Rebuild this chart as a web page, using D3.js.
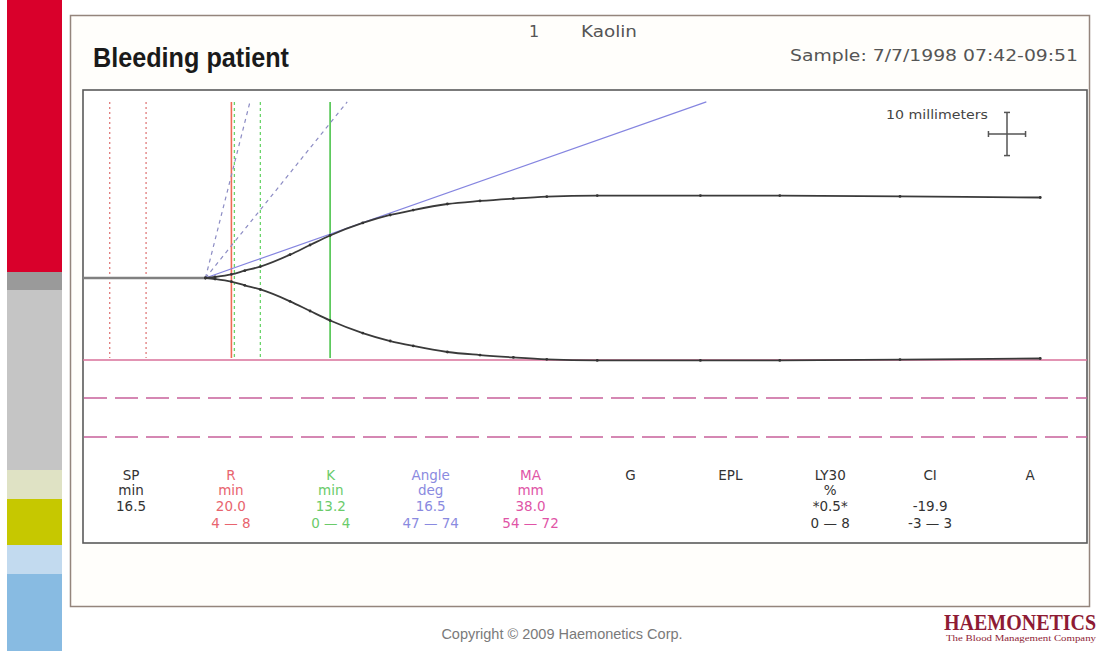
<!DOCTYPE html>
<html>
<head>
<meta charset="utf-8">
<script src="https://cdn.jsdelivr.net/npm/d3@7"></script>
<style>
  body { margin: 0; background: #fff; }
  svg { display: block; }
</style>
</head>
<body>
<svg id="chart" width="1103" height="651"></svg>
<script>
// trace: time in minutes, amplitude (full width) in mm
const traceTime = [16.5, 17.8, 20.0, 21.8, 23.9, 27.9, 30.6, 33.3, 37.7, 41.4, 44.5, 49.1, 53.5, 58.0, 62.5, 69.3, 83.2, 93.9, 110.1, 129.0];
const traceAmp  = [0,    0.5,  1.7,  3.4,  5.3,  10.8, 15.3, 19.7, 25.5, 29.2, 31.5, 34.3, 35.7, 36.8, 37.7, 38.2, 38.2, 38.2, 37.8, 37.3];
const splitPoint = 16.5;

// marker lines (minutes)
const rRangeLines = [3.6, 8.5];
const rLine = 20.0;
const kRangeLines = [20.4, 23.9];
const kLine = 33.3;
// angle lines end at the top guide, given as end time (min)
const angleRangeEnds = [22.5, 35.6];
const angleEnd = 84.0;
const guideTop = 40.8; // half-amplitude mm at the top of the guides

// results table
const paramNames  = ["SP", "R", "K", "Angle", "MA", "G", "EPL", "LY30", "CI", "A"];
const paramUnits  = ["min", "min", "min", "deg", "mm", "", "", "%", "", ""];
const paramValues = ["16.5", "20.0", "13.2", "16.5", "38.0", "", "", "*0.5*", "-19.9", ""];
const paramRanges = ["", "4 \u2014 8", "0 \u2014 4", "47 \u2014 74", "54 \u2014 72", "", "", "0 \u2014 8", "-3 \u2014 3", ""];
const paramColors = ["#333", "#e8646e", "#6acb6a", "#8a8ae0", "#e054a6", "#333", "#333", "#333", "#333", "#333"];

// side bars
const sideBarStops  = [0, 272, 290, 470, 499, 545, 574, 651];
const sideBarColors = ["#d9002b", "#9a9a9a", "#c5c5c5", "#dfe2c4", "#c6c800", "#c2daef", "#88bbe2"];

const svg = d3.select("#chart");

// left coloured strip
svg.selectAll(".side")
  .data(sideBarColors)
  .enter().append("rect")
  .attr("x", 7).attr("width", 55)
  .attr("y", (d, i) => sideBarStops[i])
  .attr("height", (d, i) => sideBarStops[i + 1] - sideBarStops[i])
  .attr("fill", d => d);

// outer frame
svg.append("rect")
  .attr("x", 70.5).attr("y", 15.5).attr("width", 1019).attr("height", 591)
  .attr("fill", "#fffefb").attr("stroke", "#94857c").attr("stroke-width", 1.5);

// header
svg.append("text").attr("x", 93).attr("y", 67)
  .attr("font-family", "'Liberation Sans Narrow', 'Liberation Sans', Arial, sans-serif")
  .attr("font-weight", "bold").attr("font-size", 27)
  .attr("textLength", 196).attr("lengthAdjust", "spacingAndGlyphs")
  .attr("fill", "#1a1a1a").text("Bleeding patient");

svg.append("text").attr("x", 529).attr("y", 37)
  .attr("font-family", "'DejaVu Sans', sans-serif").attr("font-size", 16)
  .attr("fill", "#555").text("1");
svg.append("text").attr("x", 581).attr("y", 37)
  .attr("font-family", "'DejaVu Sans', sans-serif").attr("font-size", 16)
  .attr("textLength", 56).attr("lengthAdjust", "spacingAndGlyphs")
  .attr("fill", "#555").text("Kaolin");
svg.append("text").attr("x", 790).attr("y", 61)
  .attr("font-family", "'DejaVu Sans', sans-serif").attr("font-size", 16.5)
  .attr("textLength", 288).attr("lengthAdjust", "spacingAndGlyphs")
  .attr("fill", "#555").text("Sample: 7/7/1998 07:42-09:51");

// plot box
const plotLeft = 83, plotRight = 1087, plotTop = 90, plotBottom = 543;
svg.append("rect")
  .attr("x", plotLeft).attr("y", plotTop)
  .attr("width", plotRight - plotLeft).attr("height", plotBottom - plotTop)
  .attr("fill", "#fff").attr("stroke", "#5a5a5a").attr("stroke-width", 1.6);

const x = d3.scaleLinear().domain([0, 135.3]).range([plotLeft, plotRight]);
// half-amplitude in mm, centred on the trace baseline
const y = d3.scaleLinear().domain([-19, 19]).range([360, 196]);

const guideBottom = y(-19) - 2;

// pink base line and dashed lines below
svg.append("line")
  .attr("x1", plotLeft).attr("x2", plotRight).attr("y1", y(-19)).attr("y2", y(-19))
  .attr("stroke", "#d8709a").attr("stroke-width", 1.5);
[398, 437].forEach(yy => {
  svg.append("line")
    .attr("x1", plotLeft + 1).attr("x2", plotRight).attr("y1", yy).attr("y2", yy)
    .attr("stroke", "#c8609a").attr("stroke-width", 1.5)
    .attr("stroke-dasharray", "23,8");
});

// range / marker lines
function vline(t, color, dash, w) {
  svg.append("line")
    .attr("x1", x(t)).attr("x2", x(t))
    .attr("y1", y(guideTop)).attr("y2", guideBottom)
    .attr("stroke", color).attr("stroke-width", w)
    .attr("stroke-dasharray", dash);
}
rRangeLines.forEach(t => vline(t, "#e07a7a", "2,3", 1.3));
kRangeLines.forEach(t => vline(t, "#6ad46a", "3,3", 1.3));
vline(rLine, "#f06a55", null, 1.6);
vline(kLine, "#4cc44c", null, 1.6);

angleRangeEnds.forEach(t => {
  svg.append("line")
    .attr("x1", x(splitPoint)).attr("y1", y(0))
    .attr("x2", x(t)).attr("y2", y(guideTop))
    .attr("stroke", "#8c8cc4").attr("stroke-width", 1.2)
    .attr("stroke-dasharray", "4,4");
});
svg.append("line")
  .attr("x1", x(splitPoint)).attr("y1", y(0))
  .attr("x2", x(angleEnd)).attr("y2", y(guideTop))
  .attr("stroke", "#8585e0").attr("stroke-width", 1.2);

// flat part before split point
svg.append("line")
  .attr("x1", x(0)).attr("x2", x(splitPoint)).attr("y1", y(0)).attr("y2", y(0))
  .attr("stroke", "#808080").attr("stroke-width", 2.5);

// trace, drawn symmetrically
const trace = traceTime.map((t, i) => ({ t: t, a: traceAmp[i] }));
const upper = d3.line().x(d => x(d.t)).y(d => y(d.a / 2)).curve(d3.curveMonotoneX);
const lower = d3.line().x(d => x(d.t)).y(d => y(-d.a / 2)).curve(d3.curveMonotoneX);
[upper, lower].forEach(gen => {
  svg.append("path").datum(trace)
    .attr("d", gen)
    .attr("fill", "none").attr("stroke", "#3a3a3a").attr("stroke-width", 1.8);
});
svg.selectAll(".dot")
  .data(trace.flatMap(d => [{ t: d.t, h: d.a / 2 }, { t: d.t, h: -d.a / 2 }]))
  .enter().append("circle")
  .attr("cx", d => x(d.t)).attr("cy", d => y(d.h)).attr("r", 1.4)
  .attr("fill", "#333");

// scale cross: 10 mm each way (5 min horizontally, 10 mm amplitude vertically)
const cx = 1007, cy = 134;
const hHalf = (x(5) - x(0)) / 2, vHalf = (y(0) - y(5));
const cross = svg.append("g").attr("stroke", "#555").attr("stroke-width", 1.5);
cross.append("line").attr("x1", cx - hHalf).attr("x2", cx + hHalf).attr("y1", cy).attr("y2", cy);
cross.append("line").attr("x1", cx).attr("x2", cx).attr("y1", cy - vHalf).attr("y2", cy + vHalf);
cross.append("line").attr("x1", cx - hHalf).attr("x2", cx - hHalf).attr("y1", cy - 3).attr("y2", cy + 3);
cross.append("line").attr("x1", cx + hHalf).attr("x2", cx + hHalf).attr("y1", cy - 3).attr("y2", cy + 3);
cross.append("line").attr("x1", cx - 3).attr("x2", cx + 3).attr("y1", cy - vHalf).attr("y2", cy - vHalf);
cross.append("line").attr("x1", cx - 3).attr("x2", cx + 3).attr("y1", cy + vHalf).attr("y2", cy + vHalf);
svg.append("text").attr("x", 886).attr("y", 119)
  .attr("font-family", "'DejaVu Sans', sans-serif").attr("font-size", 13)
  .attr("textLength", 102).attr("lengthAdjust", "spacingAndGlyphs")
  .attr("fill", "#444").text("10 millimeters");

// results table
const col = d3.scalePoint().domain(paramNames).range([131, 1030]);
const rows = [paramNames, paramUnits, paramValues, paramRanges];
const rowY = [480, 495, 511, 528];
rows.forEach((row, r) => {
  svg.append("g").selectAll("text")
    .data(row)
    .enter().append("text")
    .attr("x", (d, i) => col(paramNames[i]))
    .attr("y", rowY[r])
    .attr("text-anchor", "middle")
    .attr("font-family", "'DejaVu Sans', sans-serif").attr("font-size", 13.5)
    .attr("fill", (d, i) => paramColors[i])
    .text(d => d);
});

// footer
svg.append("text").attr("x", 562).attr("y", 639)
  .attr("text-anchor", "middle")
  .attr("font-family", "'Liberation Sans', Arial, sans-serif").attr("font-size", 14.5)
  .attr("fill", "#7a7a7a").text("Copyright \u00a9 2009 Haemonetics Corp.");
const logo = svg.append("g").attr("transform", "translate(944,630) scale(1,1.2)");
logo.append("text").attr("x", 0).attr("y", 0)
  .attr("font-family", "'Liberation Serif', serif").attr("font-weight", "bold").attr("font-size", 20)
  .attr("fill", "#8e1b34").text("HAEMONETICS");
svg.append("text").attr("x", 946).attr("y", 641)
  .attr("font-family", "'Liberation Serif', serif").attr("font-size", 7.5)
  .attr("textLength", 150).attr("lengthAdjust", "spacingAndGlyphs")
  .attr("fill", "#8e1b34").text("The Blood Management Company");
</script>
</body>
</html>
